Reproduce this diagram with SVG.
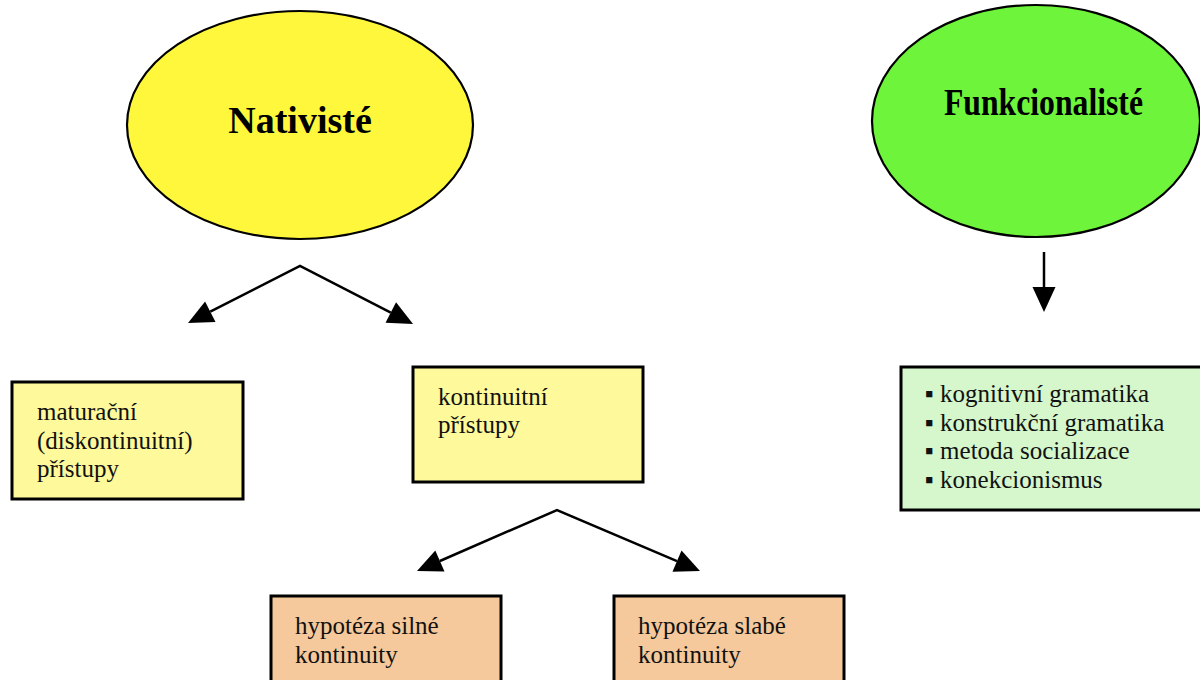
<svg xmlns="http://www.w3.org/2000/svg" width="1200" height="680" viewBox="0 0 1200 680">
<style>
.ell{stroke:#000;stroke-width:2.2}
.box{stroke:#000;stroke-width:3}
.t{font-family:"Liberation Serif","Times New Roman",serif;font-size:25px;fill:#111}
.h{font-family:"Liberation Serif","Times New Roman",serif;font-size:38px;font-weight:bold;fill:#000}
.c{fill:none;stroke:#000;stroke-width:2.5;stroke-linejoin:miter}
</style>
<defs>
<marker id="ah" markerUnits="userSpaceOnUse" markerWidth="26" markerHeight="24" refX="0" refY="11.5" orient="auto-start-reverse" overflow="visible">
<path d="M0,0 L25,11.5 L0,23 z" fill="#000"/>
</marker>
</defs>
<rect width="1200" height="680" fill="#fff"/>
<g id="nativiste">
<ellipse class="ell" cx="300" cy="125" rx="173" ry="114" fill="#FFF73B"/>
<text class="h" x="300" y="133" text-anchor="middle">Nativisté</text>
</g>
<g id="funkcionaliste">
<ellipse class="ell" cx="1036" cy="121" rx="164" ry="116" fill="#6EF43A"/>
<text class="h" x="944" y="115" textLength="199" lengthAdjust="spacingAndGlyphs">Funkcionalisté</text>
</g>
<g id="maturacni">
<rect class="box" x="12" y="382" width="231" height="117" fill="#FEF99B"/>
<text class="t" x="37" y="420">maturační</text>
<text class="t" x="37" y="449">(diskontinuitní)</text>
<text class="t" x="37" y="477">přístupy</text>
</g>
<g id="kontinuitni">
<rect class="box" x="413" y="367" width="230" height="115" fill="#FEF99B"/>
<text class="t" x="438" y="405">kontinuitní</text>
<text class="t" x="438" y="433">přístupy</text>
</g>
<g id="silne">
<rect class="box" x="271" y="596" width="230" height="100" fill="#F5C99B"/>
<text class="t" x="295" y="634">hypotéza silné</text>
<text class="t" x="295" y="663">kontinuity</text>
</g>
<g id="slabe">
<rect class="box" x="614" y="596" width="230" height="100" fill="#F5C99B"/>
<text class="t" x="638" y="634">hypotéza slabé</text>
<text class="t" x="638" y="663">kontinuity</text>
</g>
<g id="funkc-list">
<rect class="box" x="901" y="367" width="310" height="143" fill="#D5F7CB"/>
<text class="t" x="925" y="402">▪ kognitivní gramatika</text>
<text class="t" x="925" y="431">▪ konstrukční gramatika</text>
<text class="t" x="925" y="459">▪ metoda socializace</text>
<text class="t" x="925" y="488">▪ konekcionismus</text>
</g>
<g id="connectors">
<path class="c" d="M210.3,311.7 L300,266 L390.8,312.6" marker-start="url(#ah)" marker-end="url(#ah)"/>
<path class="c" d="M439.9,561 L557,510 L677,561.2" marker-start="url(#ah)" marker-end="url(#ah)"/>
<path class="c" d="M1044,252 L1044,287" marker-end="url(#ah)"/>
</g>
</svg>
